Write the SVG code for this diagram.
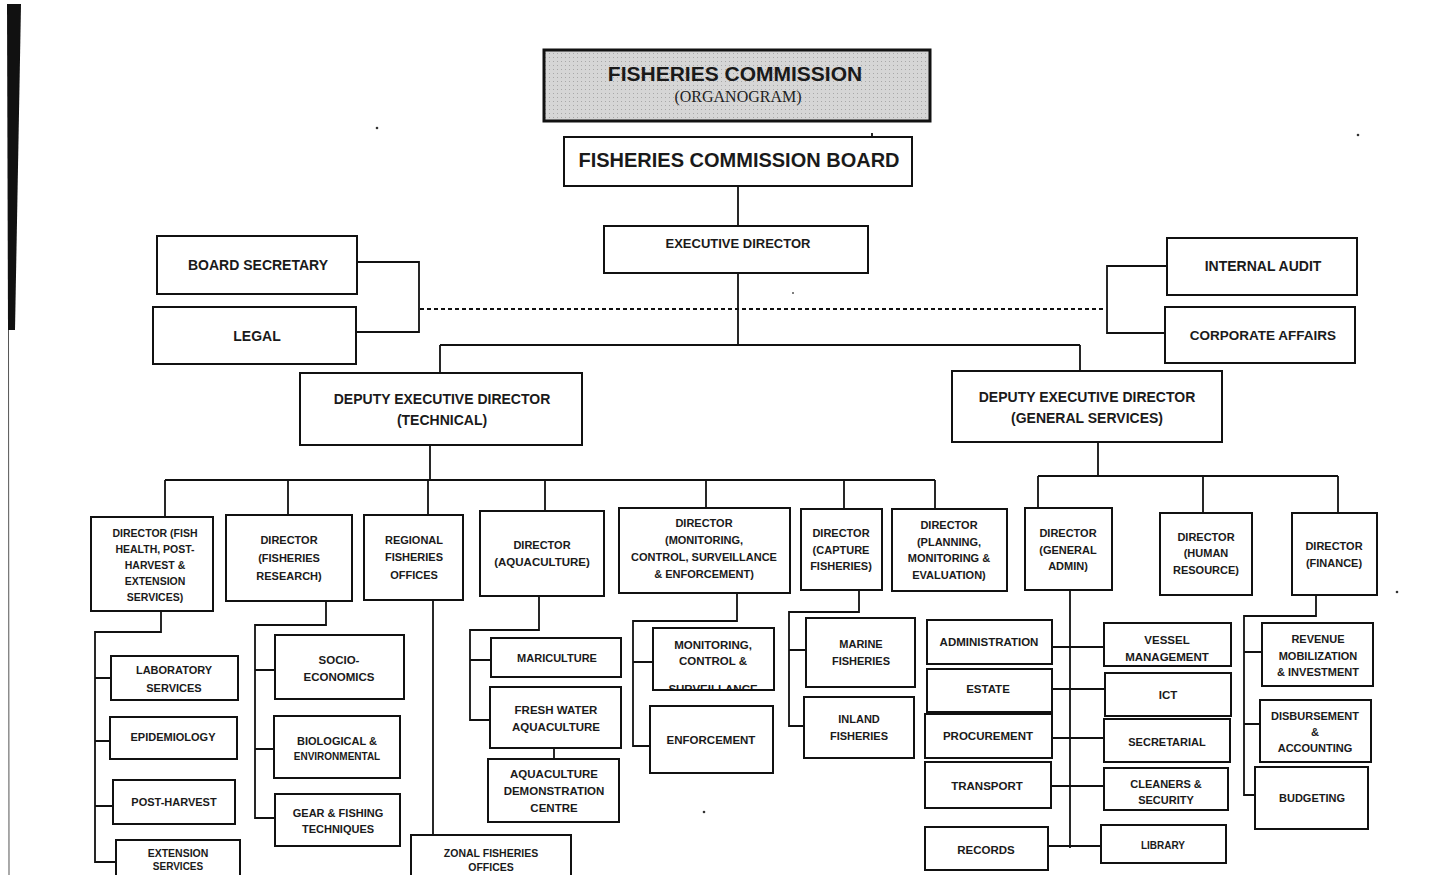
<svg xmlns="http://www.w3.org/2000/svg" width="1446" height="875" viewBox="0 0 1446 875">
<defs>
<style>
.bx{fill:#fff;stroke:#111;stroke-width:2}
.t{font-family:"Liberation Sans",Arial,sans-serif;font-weight:bold;fill:#1a1a1a;text-anchor:middle}
.s10{font-size:10px}.s105{font-size:10.5px}.s11{font-size:11px}.s115{font-size:11.5px}.s13{font-size:13px}.s14{font-size:14px}
.c{fill:none;stroke:#111;stroke-width:1.8}
</style>
<pattern id="dots" width="4" height="4" patternUnits="userSpaceOnUse">
<rect width="4" height="4" fill="#d6d6d6"/>
<rect x="1" y="1" width="1" height="1" fill="#a8a8a8"/>
</pattern>
<clipPath id="mcsclip"><rect x="654" y="629" width="119" height="60"/></clipPath>
</defs>
<rect width="1446" height="875" fill="#fff"/>
<polygon points="7,4 21,4 15,330 8,330" fill="#111"/>
<line x1="8.5" y1="330" x2="9" y2="875" stroke="#555" stroke-width="1"/>
<circle cx="377" cy="128" r="1.3" fill="#333"/>
<circle cx="1358" cy="135" r="1.3" fill="#333"/>
<circle cx="1397" cy="592" r="1.3" fill="#333"/>
<circle cx="704" cy="812" r="1.3" fill="#333"/>
<circle cx="793" cy="293" r="1" fill="#555"/>

<g id="connectors">
<path class="c" d="M738 186V226M738 273V345M440 345H1080M440 345V373M1080 345V371"/>
<path class="c" d="M420 309H1105" stroke-dasharray="4 3"/>
<path class="c" d="M357 262H419V332H356M1167 266H1107V333H1165"/>
<path class="c" d="M430 445V480M165 480H935M165 480V517M288 480V515M428 480V515M545 480V511M706 480V508M844 480V509M935 480V509"/>
<path class="c" d="M1098 442V476M1038 476H1338M1038 476V508M1203 476V513M1338 476V513"/>
<path class="c" d="M161 611V632H95V862H116M95 678H111M95 741H110M95 806H113"/>
<path class="c" d="M326 601V625H255V818H275M255 670H275M255 749H274"/>
<path class="c" d="M433 600V835"/>
<path class="c" d="M539 596V630H470V720H490M470 660H491M554 748V759"/>
<path class="c" d="M737 593V621H633V746H650M633 662H653"/>
<path class="c" d="M859 590V612H789V726H804M789 650H806"/>
<path class="c" d="M1070 590V848M1052 647H1104M1052 689H1105M1052 738H1104M1051 786H1104M1048 846H1101"/>
<path class="c" d="M1316 595V616H1244V795H1255M1244 652H1262M1244 724H1260"/>
<path class="c" d="M872 133V140"/>
</g>

<g id="title">
<rect x="544" y="50" width="386" height="71" fill="url(#dots)" stroke="#111" stroke-width="3"/>
<text class="t" x="735" y="81" font-size="21">FISHERIES COMMISSION</text>
<text x="738" y="102" font-family="Liberation Serif,serif" font-size="16" text-anchor="middle" fill="#222">(ORGANOGRAM)</text>
</g>
<g id="board"><rect class="bx" x="564" y="137" width="348" height="49"/><text class="t" x="739" y="167" font-size="20">FISHERIES COMMISSION BOARD</text></g>
<g id="exec"><rect class="bx" x="604" y="226" width="264" height="47"/><text class="t s13" x="738" y="248">EXECUTIVE DIRECTOR</text></g>
<g id="boardsec"><rect class="bx" x="157" y="236" width="200" height="58"/><text class="t s14" x="258" y="270">BOARD SECRETARY</text></g>
<g id="legal"><rect class="bx" x="153" y="307" width="203" height="57"/><text class="t s14" x="257" y="341">LEGAL</text></g>
<g id="audit"><rect class="bx" x="1167" y="238" width="190" height="57"/><text class="t s14" x="1263" y="271">INTERNAL AUDIT</text></g>
<g id="corp"><rect class="bx" x="1165" y="307" width="190" height="56"/><text class="t" font-size="13.5" x="1263" y="340">CORPORATE AFFAIRS</text></g>
<g id="dedtech"><rect class="bx" x="300" y="373" width="282" height="72"/><text class="t s14" x="442" y="404">DEPUTY EXECUTIVE DIRECTOR</text><text class="t s14" x="442" y="425">(TECHNICAL)</text></g>
<g id="dedgs"><rect class="bx" x="952" y="371" width="270" height="71"/><text class="t s14" x="1087" y="402">DEPUTY EXECUTIVE DIRECTOR</text><text class="t s14" x="1087" y="423">(GENERAL SERVICES)</text></g>

<g id="dirfish"><rect class="bx" x="91" y="517" width="122" height="94"/>
<text class="t s105" x="155" y="537">DIRECTOR (FISH</text><text class="t s105" x="155" y="553">HEALTH, POST-</text><text class="t s105" x="155" y="569">HARVEST &amp;</text><text class="t s105" x="155" y="585">EXTENSION</text><text class="t s105" x="155" y="601">SERVICES)</text></g>
<g id="dirresearch"><rect class="bx" x="226" y="515" width="126" height="86"/>
<text class="t s11" x="289" y="544">DIRECTOR</text><text class="t s11" x="289" y="562">(FISHERIES</text><text class="t s11" x="289" y="580">RESEARCH)</text></g>
<g id="regional"><rect class="bx" x="364" y="515" width="99" height="85"/>
<text class="t s11" x="414" y="544">REGIONAL</text><text class="t s11" x="414" y="561">FISHERIES</text><text class="t s11" x="414" y="579">OFFICES</text></g>
<g id="diraqua"><rect class="bx" x="480" y="511" width="124" height="85"/>
<text class="t s11" x="542" y="549">DIRECTOR</text><text class="t s115" x="542" y="566">(AQUACULTURE)</text></g>
<g id="dirmcs"><rect class="bx" x="619" y="508" width="171" height="85"/>
<text class="t s11" x="704" y="527">DIRECTOR</text><text class="t s11" x="704" y="544">(MONITORING,</text><text class="t s11" x="704" y="561">CONTROL, SURVEILLANCE</text><text class="t s11" x="704" y="578">&amp; ENFORCEMENT)</text></g>
<g id="dircapture"><rect class="bx" x="801" y="509" width="81" height="81"/>
<text class="t s11" x="841" y="537">DIRECTOR</text><text class="t s11" x="841" y="554">(CAPTURE</text><text class="t s11" x="841" y="570">FISHERIES)</text></g>
<g id="dirplanning"><rect class="bx" x="892" y="509" width="115" height="82"/>
<text class="t s11" x="949" y="529">DIRECTOR</text><text class="t s11" x="949" y="546">(PLANNING,</text><text class="t s11" x="949" y="562">MONITORING &amp;</text><text class="t s11" x="949" y="579">EVALUATION)</text></g>
<g id="diradmin"><rect class="bx" x="1025" y="508" width="87" height="82"/>
<text class="t s11" x="1068" y="537">DIRECTOR</text><text class="t s11" x="1068" y="554">(GENERAL</text><text class="t s11" x="1068" y="570">ADMIN)</text></g>
<g id="dirhr"><rect class="bx" x="1160" y="513" width="92" height="82"/>
<text class="t s11" x="1206" y="541">DIRECTOR</text><text class="t s11" x="1206" y="557">(HUMAN</text><text class="t s11" x="1206" y="574">RESOURCE)</text></g>
<g id="dirfinance"><rect class="bx" x="1292" y="513" width="85" height="82"/>
<text class="t s11" x="1334" y="550">DIRECTOR</text><text class="t s11" x="1334" y="567">(FINANCE)</text></g>

<g id="lab"><rect class="bx" x="111" y="656" width="127" height="44"/><text class="t s11" x="174" y="674">LABORATORY</text><text class="t s11" x="174" y="692">SERVICES</text></g>
<g id="epid"><rect class="bx" x="110" y="717" width="127" height="42"/><text class="t s11" x="173" y="741">EPIDEMIOLOGY</text></g>
<g id="posth"><rect class="bx" x="113" y="780" width="122" height="44"/><text class="t s11" x="174" y="806">POST-HARVEST</text></g>
<g id="ext"><rect class="bx" x="116" y="840" width="124" height="42"/><text class="t s105" x="178" y="857">EXTENSION</text><text class="t s10" x="178" y="870">SERVICES</text></g>
<g id="socio"><rect class="bx" x="275" y="635" width="129" height="64"/><text class="t s115" x="339" y="664">SOCIO-</text><text class="t s115" x="339" y="681">ECONOMICS</text></g>
<g id="bio"><rect class="bx" x="274" y="716" width="126" height="62"/><text class="t s11" x="337" y="745">BIOLOGICAL &amp;</text><text class="t s10" x="337" y="760">ENVIRONMENTAL</text></g>
<g id="gear"><rect class="bx" x="275" y="794" width="125" height="52"/><text class="t s11" x="338" y="817">GEAR &amp; FISHING</text><text class="t s11" x="338" y="833">TECHNIQUES</text></g>
<g id="zonal"><rect class="bx" x="411" y="835" width="160" height="45"/><text class="t s105" x="491" y="857">ZONAL FISHERIES</text><text class="t s105" x="491" y="871">OFFICES</text></g>
<g id="mari"><rect class="bx" x="491" y="638" width="130" height="39"/><text class="t s11" x="557" y="662">MARICULTURE</text></g>
<g id="fresh"><rect class="bx" x="490" y="687" width="131" height="61"/><text class="t s115" x="556" y="714">FRESH WATER</text><text class="t s115" x="556" y="731">AQUACULTURE</text></g>
<g id="adc"><rect class="bx" x="488" y="759" width="131" height="63"/><text class="t s115" x="554" y="778">AQUACULTURE</text><text class="t s115" x="554" y="795">DEMONSTRATION</text><text class="t s115" x="554" y="812">CENTRE</text></g>
<g id="mcs"><rect class="bx" x="653" y="628" width="121" height="62"/><text class="t s115" x="713" y="649">MONITORING,</text><text class="t s115" x="713" y="665">CONTROL &amp;</text><text class="t s115" x="713" y="693" clip-path="url(#mcsclip)">SURVEILLANCE</text></g>
<g id="enf"><rect class="bx" x="650" y="706" width="123" height="67"/><text class="t s115" x="711" y="744">ENFORCEMENT</text></g>
<g id="marine"><rect class="bx" x="806" y="618" width="109" height="69"/><text class="t s11" x="861" y="648">MARINE</text><text class="t s11" x="861" y="665">FISHERIES</text></g>
<g id="inland"><rect class="bx" x="804" y="697" width="110" height="61"/><text class="t s11" x="859" y="723">INLAND</text><text class="t s11" x="859" y="740">FISHERIES</text></g>
<g id="administration"><rect class="bx" x="927" y="620" width="125" height="44"/><text class="t s115" x="989" y="646">ADMINISTRATION</text></g>
<g id="estate"><rect class="bx" x="927" y="669" width="125" height="43"/><text class="t s115" x="988" y="693">ESTATE</text></g>
<g id="procurement"><rect class="bx" x="925" y="714" width="127" height="44"/><text class="t s115" x="988" y="740">PROCUREMENT</text></g>
<g id="transport"><rect class="bx" x="925" y="762" width="126" height="46"/><text class="t s115" x="987" y="790">TRANSPORT</text></g>
<g id="records"><rect class="bx" x="925" y="827" width="123" height="43"/><text class="t s115" x="986" y="854">RECORDS</text></g>
<g id="vessel"><rect class="bx" x="1104" y="623" width="127" height="43"/><text class="t s115" x="1167" y="644">VESSEL</text><text class="t s115" x="1167" y="661">MANAGEMENT</text></g>
<g id="ict"><rect class="bx" x="1105" y="673" width="126" height="43"/><text class="t s115" x="1168" y="699">ICT</text></g>
<g id="secretarial"><rect class="bx" x="1104" y="719" width="126" height="43"/><text class="t s11" x="1167" y="746">SECRETARIAL</text></g>
<g id="cleaners"><rect class="bx" x="1104" y="768" width="124" height="42"/><text class="t s11" x="1166" y="788">CLEANERS &amp;</text><text class="t s11" x="1166" y="804">SECURITY</text></g>
<g id="library"><rect class="bx" x="1101" y="825" width="125" height="38"/><text class="t s10" x="1163" y="849">LIBRARY</text></g>
<g id="revenue"><rect class="bx" x="1262" y="623" width="111" height="63"/><text class="t s11" x="1318" y="643">REVENUE</text><text class="t s11" x="1318" y="660">MOBILIZATION</text><text class="t s11" x="1318" y="676">&amp; INVESTMENT</text></g>
<g id="disb"><rect class="bx" x="1260" y="700" width="111" height="62"/><text class="t s11" x="1315" y="720">DISBURSEMENT</text><text class="t s11" x="1315" y="736">&amp;</text><text class="t s11" x="1315" y="752">ACCOUNTING</text></g>
<g id="budget"><rect class="bx" x="1255" y="767" width="113" height="62"/><text class="t s11" x="1312" y="802">BUDGETING</text></g>
</svg>
